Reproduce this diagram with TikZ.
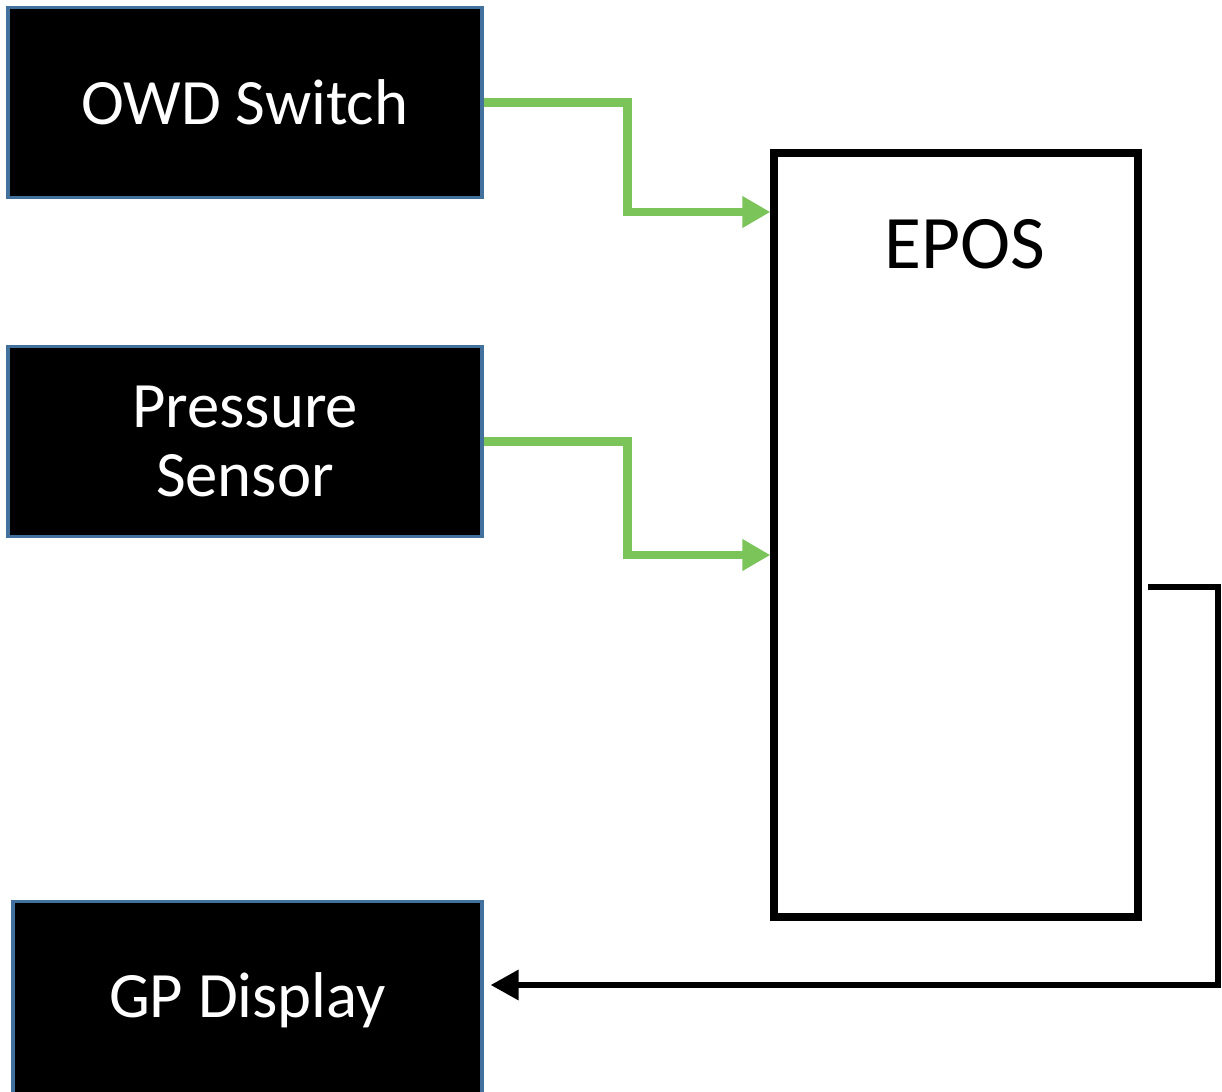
\documentclass[tikz,border=0pt]{standalone}
\usepackage{fontspec}
\setmainfont{Carlito}
\usepackage{tikz}
\usetikzlibrary{arrows.meta,positioning}
\definecolor{boxblue}{RGB}{65,113,156}
\definecolor{sigreen}{RGB}{122,196,90}
\tikzset{
  blk/.style={draw=boxblue, fill=black, text=white, line width=1.1pt,
              minimum width=4.73cm, minimum height=1.90cm, align=center,
              font=\fontsize{18.4}{19.5}\selectfont},
  ctrl/.style={draw, fill=white, line width=2.3pt, minimum width=3.63cm,
               minimum height=7.63cm},
  gedge/.style={draw=sigreen, line width=2.4pt, -{Triangle[length=2.8mm,width=3mm]}},
  kedge/.style={line width=1.8pt, -{Triangle[length=2.8mm,width=2.9mm]}}
}
\begin{document}
\begin{tikzpicture}[x=0.01cm, y=-0.01cm]
  \useasboundingbox (0,0) rectangle (1222,1091);
  \node[blk] (owd) at (245,102.5) {OWD Switch};
  \node[blk] (press) at (245,441.5) {Pressure\\Sensor};
  \node[blk, minimum width=4.68cm, minimum height=1.97cm] (gp) at (247.5,1000) {GP Display};
  \node[ctrl, label={[anchor=north, yshift=-0.58cm, xshift=0.09cm,
        font=\fontsize{21.5}{26}\selectfont]north:EPOS}] (epos) at (956,535) {};
  \coordinate (out) at (1148,587);

  \draw[gedge] (owd.east) -- ++(144,0) |- (epos.west |- 0,212);
  \draw[gedge] (press.east) -- ++(144,0) |- (epos.west |- 0,555);
  \draw[kedge] (out) -- ++(70,0) |- ([yshift=0.15cm, xshift=0.07cm]gp.east);
\end{tikzpicture}
\end{document}
